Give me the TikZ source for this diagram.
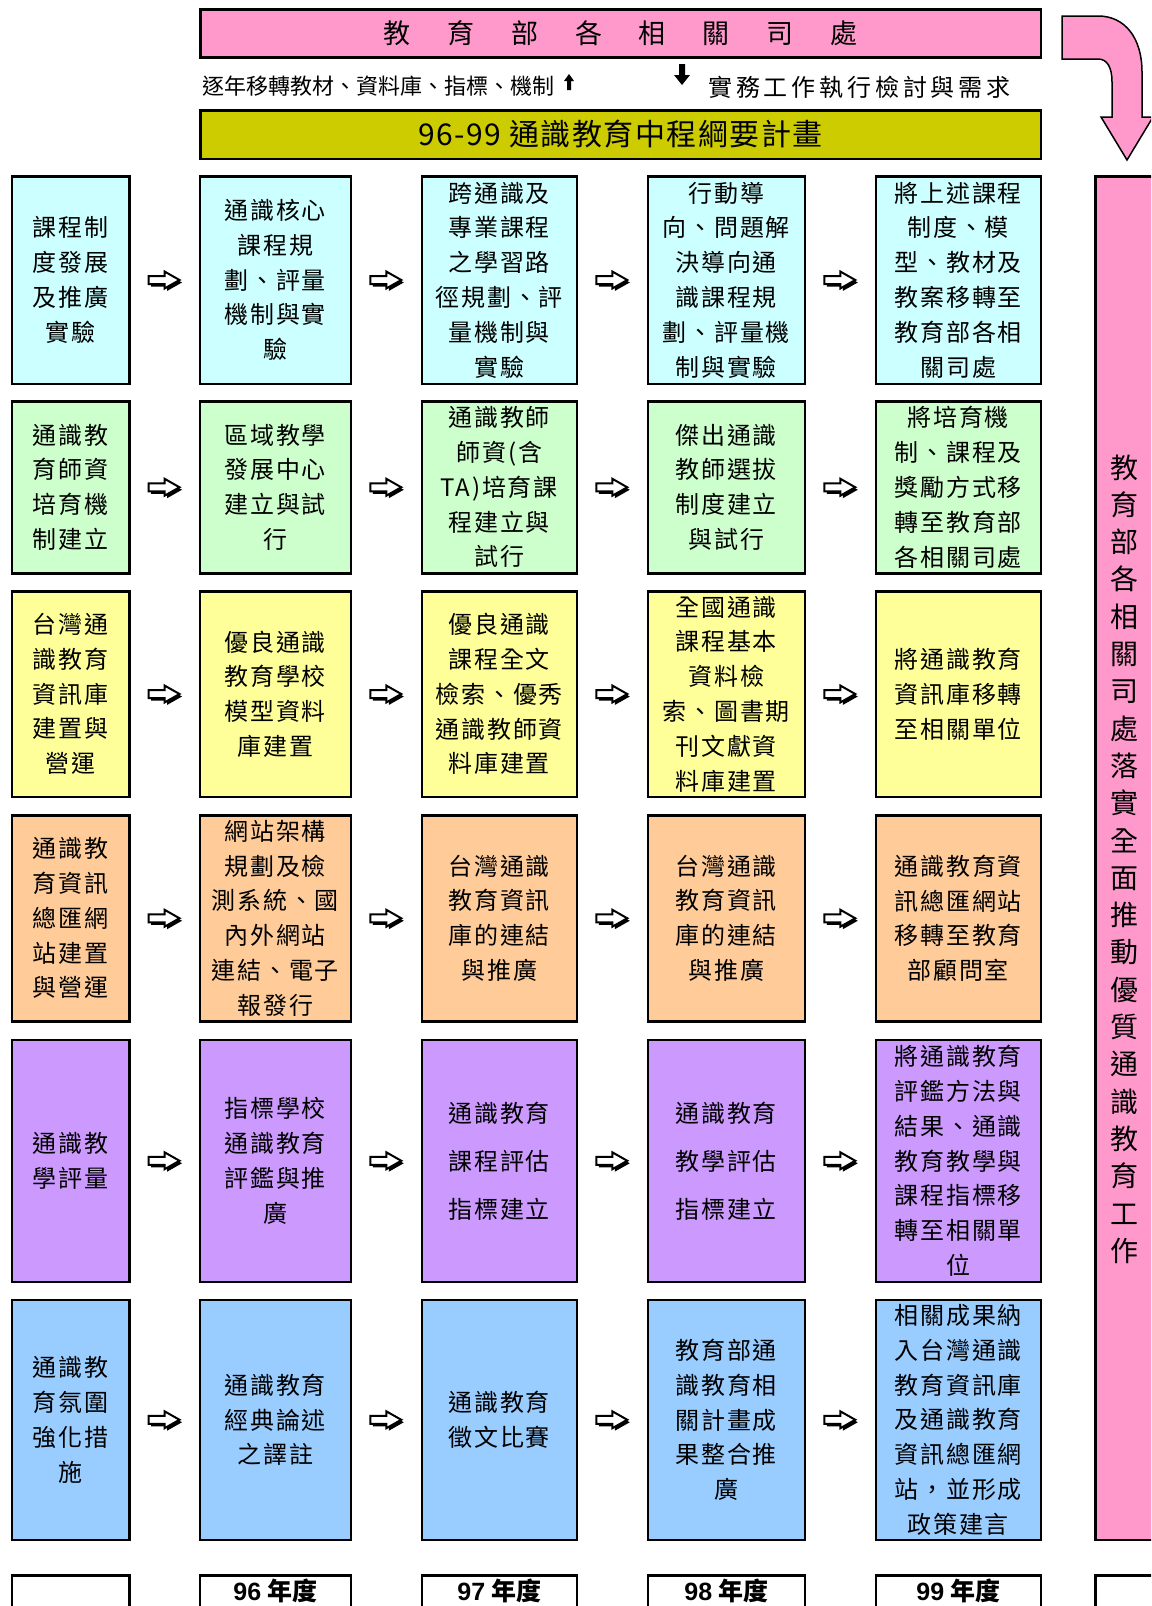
\documentclass[tikz,border=0pt]{standalone}
\usepackage{fontspec}
\setmainfont{Noto Sans CJK TC}
\newfontfamily\boxfont[LetterSpace=7.5]{Noto Sans CJK TC}
\newfontfamily\widefont[LetterSpace=16]{Noto Sans CJK TC}
\newfontfamily\headfont[LetterSpace=5]{Noto Sans CJK TC}
\newfontfamily\latinbold{Liberation Sans}
\usetikzlibrary{calc}
\definecolor{pinkc}{HTML}{FF99CC}
\definecolor{olivec}{HTML}{CCCC00}
\definecolor{cyanc}{HTML}{CCFFFF}
\definecolor{greenc}{HTML}{CCFFCC}
\definecolor{yellowc}{HTML}{FFFF99}
\definecolor{peachc}{HTML}{FFCC99}
\definecolor{lavc}{HTML}{CC99FF}
\definecolor{bluec}{HTML}{99CCFF}
\newcommand\boxtext{\boxfont\fontsize{24}{34.8}\selectfont}
\newcommand\boxtextwide{\boxfont\fontsize{24}{48}\selectfont}
\tikzset{
  cell/.style={draw, line width=2.5pt, align=center, inner sep=0pt, font=\boxtext},
  colA/.style={minimum width=117.5pt},
  colB/.style={minimum width=151pt},
  colC/.style={minimum width=155pt},
  colD/.style={minimum width=157pt},
  colE/.style={minimum width=165pt},
  rowA/.style={minimum height=207.5pt, fill=cyanc},
  rowB/.style={minimum height=172pt, fill=greenc},
  rowC/.style={minimum height=205.5pt, fill=yellowc},
  rowD/.style={minimum height=206pt, fill=peachc},
  rowE/.style={minimum height=242pt, fill=lavc},
  rowF/.style={minimum height=240pt, fill=bluec},
  yearbox/.style={draw, line width=2.5pt, fill=white, minimum height=73.5pt, inner sep=0pt},
  yeartext/.style={font=\bfseries\fontsize{25}{28}\selectfont, inner sep=0pt},
  pics/blockarr/.style={code={
    \fill[black, shift={(2.5,2.5)}] (-16,-4) -- (0,-4) -- (0,-8.5) -- (15,0) -- (0,8.5) -- (0,4) -- (-16,4) -- cycle;
    \draw[line width=2pt, fill=white, line join=miter] (-16,-4) -- (0,-4) -- (0,-8.5) -- (15,0) -- (0,8.5) -- (0,4) -- (-16,4) -- cycle;
  }}
}
\begin{document}
\begin{tikzpicture}[x=1pt, y=-1pt]
\clip (0,0) rectangle (1151,1606);
\fill[white] (0,0) rectangle (1151,1606);

% header boxes
\node[draw, line width=2.5pt, fill=pinkc, minimum width=840.5pt, minimum height=48pt, inner sep=0pt,
  font=\fontsize{27}{30}\selectfont] (top) at (620.5,33.5)
  {教\hspace{36.8pt}育\hspace{36.8pt}部\hspace{36.8pt}各\hspace{36.8pt}相\hspace{36.8pt}關\hspace{36.8pt}司\hspace{36.8pt}處};
\node[draw, line width=2.5pt, fill=olivec, minimum width=840.5pt, minimum height=48.5pt, inner sep=0pt,
  font=\headfont\fontsize{30}{32}\selectfont] (plan) at (620.5,134.5) {96-99 通識教育中程綱要計畫};

\node[anchor=west, inner sep=0pt, font=\fontsize{22}{24}\selectfont] (leftnote) at (202,86) {逐年移轉教材、資料庫、指標、機制};
\node[anchor=west, inner sep=0pt, font=\widefont\fontsize{24}{26}\selectfont] (rightnote) at (708,87) {實務工作執行檢討與需求};
% small up arrow and down arrow
\fill[black] (567,90) -- (571,90) -- (571,81) -- (574,81) -- (569,74) -- (564,81) -- (567,81) -- cycle;
\fill[black] (679,64) -- (685,64) -- (685,75) -- (690,75) -- (682,85) -- (674,75) -- (679,75) -- cycle;

% curved arrow
\filldraw[fill=pinkc, draw=black, line width=1.5pt, line join=miter]
  (1062,16) -- (1098,16) .. controls (1125,16) and (1142,38) .. (1142,72) -- (1142,117)
  -- (1153,117) -- (1127,160) -- (1101,117) -- (1112,117) -- (1112,82)
  .. controls (1112,67) and (1107,59) .. (1098,59) -- (1062,59) -- cycle;

% right vertical box
\node[draw, line width=2.5pt, fill=pinkc, minimum width=100pt, minimum height=1363.5pt, inner sep=0pt] (side) at (1145.5,858) {};
\node[align=center, inner sep=0pt, font=\fontsize{28}{37.3}\selectfont] (sidetext) at (1124,859)
  {教\\育\\部\\各\\相\\關\\司\\處\\落\\實\\全\\面\\推\\動\\優\\質\\通\\識\\教\\育\\工\\作};

% row 1
\node[cell,colA,rowA] (n1-1) at (70.5,280) {課程制\\度發展\\及推廣\\實驗};
\node[cell,colB,rowA] (n1-2) at (275.25,280) {通識核心\\課程規\\劃、評量\\機制與實\\驗};
\node[cell,colC,rowA] (n1-3) at (499.25,280) {跨通識及\\專業課程\\之學習路\\徑規劃、評\\量機制與\\實驗};
\node[cell,colD,rowA] (n1-4) at (726.25,280) {行動導\\向、問題解\\決導向通\\識課程規\\劃、評量機\\制與實驗};
\node[cell,colE,rowA] (n1-5) at (958.25,280) {將上述課程\\制度、模\\型、教材及\\教案移轉至\\教育部各相\\關司處};
% row 2
\node[cell,colA,rowB] (n2-1) at (70.5,487.25) {通識教\\育師資\\培育機\\制建立};
\node[cell,colB,rowB] (n2-2) at (275.25,487.25) {區域教學\\發展中心\\建立與試\\行};
\node[cell,colC,rowB] (n2-3) at (499.25,487.25) {通識教師\\師資(含\\TA)培育課\\程建立與\\試行};
\node[cell,colD,rowB] (n2-4) at (726.25,487.25) {傑出通識\\教師選拔\\制度建立\\與試行};
\node[cell,colE,rowB] (n2-5) at (958.25,487.25) {將培育機\\制、課程及\\獎勵方式移\\轉至教育部\\各相關司處};
% row 3
\node[cell,colA,rowC] (n3-1) at (70.5,694) {台灣通\\識教育\\資訊庫\\建置與\\營運};
\node[cell,colB,rowC] (n3-2) at (275.25,694) {優良通識\\教育學校\\模型資料\\庫建置};
\node[cell,colC,rowC] (n3-3) at (499.25,694) {優良通識\\課程全文\\檢索、優秀\\通識教師資\\料庫建置};
\node[cell,colD,rowC] (n3-4) at (726.25,694) {全國通識\\課程基本\\資料檢\\索、圖書期\\刊文獻資\\料庫建置};
\node[cell,colE,rowC] (n3-5) at (958.25,694) {將通識教育\\資訊庫移轉\\至相關單位};
% row 4
\node[cell,colA,rowD] (n4-1) at (70.5,918.25) {通識教\\育資訊\\總匯網\\站建置\\與營運};
\node[cell,colB,rowD] (n4-2) at (275.25,918.25) {網站架構\\規劃及檢\\測系統、國\\內外網站\\連結、電子\\報發行};
\node[cell,colC,rowD] (n4-3) at (499.25,918.25) {台灣通識\\教育資訊\\庫的連結\\與推廣};
\node[cell,colD,rowD] (n4-4) at (726.25,918.25) {台灣通識\\教育資訊\\庫的連結\\與推廣};
\node[cell,colE,rowD] (n4-5) at (958.25,918.25) {通識教育資\\訊總匯網站\\移轉至教育\\部顧問室};
% row 5
\node[cell,colA,rowE] (n5-1) at (70.5,1160.75) {通識教\\學評量};
\node[cell,colB,rowE] (n5-2) at (275.25,1160.75) {指標學校\\通識教育\\評鑑與推\\廣};
\node[cell,colC,rowE,font=\boxtextwide] (n5-3) at (499.25,1160.75) {通識教育\\課程評估\\指標建立};
\node[cell,colD,rowE,font=\boxtextwide] (n5-4) at (726.25,1160.75) {通識教育\\教學評估\\指標建立};
\node[cell,colE,rowE] (n5-5) at (958.25,1160.75) {將通識教育\\評鑑方法與\\結果、通識\\教育教學與\\課程指標移\\轉至相關單\\位};
% row 6
\node[cell,colA,rowF] (n6-1) at (70.5,1419.75) {通識教\\育氛圍\\強化措\\施};
\node[cell,colB,rowF] (n6-2) at (275.25,1419.75) {通識教育\\經典論述\\之譯註};
\node[cell,colC,rowF] (n6-3) at (499.25,1419.75) {通識教育\\徵文比賽};
\node[cell,colD,rowF] (n6-4) at (726.25,1419.75) {教育部通\\識教育相\\關計畫成\\果整合推\\廣};
\node[cell,colE,rowF] (n6-5) at (958.25,1419.75) {相關成果納\\入台灣通識\\教育資訊庫\\及通識教育\\資訊總匯網\\站，並形成\\政策建言};

% block arrows
\foreach \r in {1,...,6}{
  \foreach \c/\d in {1/2,2/3,3/4,4/5}{
    \pic at ($(n\r-\c.east)!0.5!(n\r-\d.west)$) {blockarr};
  }
}

% year row
\node[yearbox,colA] (y0) at (70.5,1612) {};
\node[yearbox,colB] (y1) at (275.25,1612) {};
\node[yearbox,colC] (y2) at (499.25,1612) {};
\node[yearbox,colD] (y3) at (726.25,1612) {};
\node[yearbox,colE] (y4) at (958.25,1612) {};
\node[yearbox,minimum width=100pt] (y5) at (1145.5,1612) {};
\node[yeartext] (t96) at (275.25,1591) {{\latinbold 96} 年度};
\node[yeartext] (t97) at (499.25,1591) {{\latinbold 97} 年度};
\node[yeartext] (t98) at (726.25,1591) {{\latinbold 98} 年度};
\node[yeartext] (t99) at (958.25,1591) {{\latinbold 99} 年度};
\end{tikzpicture}
\end{document}
